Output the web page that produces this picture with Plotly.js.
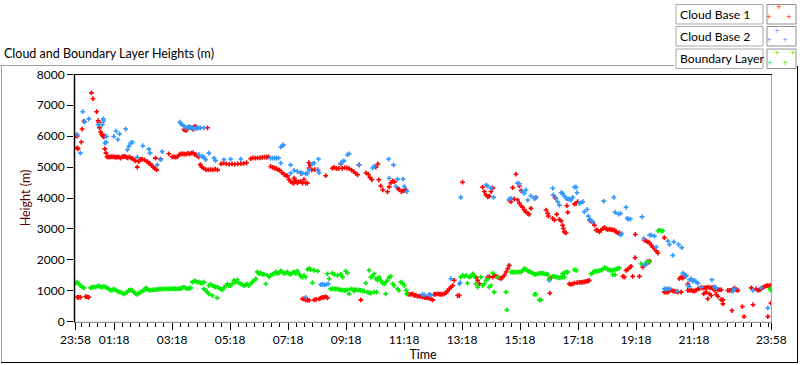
<!DOCTYPE html>
<html><head><meta charset="utf-8">
<script src="https://cdn.plot.ly/plotly-3.0.1.min.js"></script>
<style>html,body{margin:0;padding:0;background:#fff;}#chart{width:800px;height:365px;}</style>
</head><body><div id="chart"></div>
<script>
// hours after 23:58 start, height in metres
const cloudBase1 = [
[0.02,6020],[0.05,6000],[0.06,5620],[0.09,5590],[0.2,5810],[0.23,6230],[0.29,6480],[0.55,7400],[0.6,7210],[0.73,6790],[0.78,6500],[0.8,6440],[0.83,6270],[0.87,6130],[0.9,6060],[0.93,6020],[0.97,5980],[1.0,6000],[1.01,5590],[1.05,5450],
[1.09,5330],[1.14,5330],[1.19,5320],[1.24,5340],[1.29,5330],[1.34,5330],[1.39,5310],[1.44,5330],[1.5,5320],[1.55,5290],[1.6,5330],[1.65,5340],[1.7,5350],[1.75,5320],[1.8,5300],[1.86,5330],[1.92,5290],[1.97,5270],[2.02,5230],[2.07,5200],[2.13,5000],[2.18,5180],[2.24,5250],[2.3,5250],[2.38,5230],[2.47,5180],[2.52,5130],[2.58,5100],[2.63,5050],[2.68,5000],[2.74,4950],[2.8,4910],[2.76,5290],[2.93,5260],[3.22,5430],[3.34,5330],[3.4,5330],[3.46,5320],[3.52,5340],[3.58,5400],[3.64,5430],[3.7,5430],[3.76,5420],[3.82,5420],[3.88,5440],[3.94,5430],[4.0,5450],[4.06,5460],[4.12,5400],[4.18,5390],[4.24,5330],
[3.74,6210],[3.8,6180],[3.86,6230],[3.92,6290],[3.98,6270],[4.04,6230],[4.08,6300],[4.14,6320],[4.2,6260],[4.55,6270],
[4.3,5080],[4.36,5000],[4.42,4960],[4.5,4920],[4.58,4910],[4.66,4920],[4.74,4910],[4.82,4930],[4.9,4910],[5.02,5100],[5.1,5130],[5.2,5100],[5.3,5090],[5.4,5100],[5.5,5090],[5.6,5100],[5.7,5110],[5.8,5120],[5.9,5140],[6.04,5270],[6.12,5300],[6.2,5290],[6.28,5300],[6.36,5300],[6.44,5310],[6.52,5320],[6.6,5320],[6.66,5330],
[6.73,5020],[6.8,4990],[6.86,4970],[6.92,4950],[6.98,4920],[7.04,4900],[7.12,4820],[7.2,4760],[7.27,4720],[7.31,4715],[7.36,4600],[7.42,4530],[7.48,4500],[7.54,4480],[7.54,4640],[7.6,4560],[7.65,4500],[7.7,4520],[7.77,4530],[7.77,4800],[7.83,4480],[7.88,4600],[7.94,4480],[8.0,4480],[8.06,4970],[8.05,5140],[8.1,5070],[8.15,4910],[8.25,4920],[8.36,4910],[8.63,4720],
[8.86,4960],[8.92,4990],[9.0,4950],[9.08,4960],[9.15,5100],[9.2,4960],[9.28,4980],[9.36,4970],[9.44,4950],[9.52,4900],[9.6,4850],[9.66,4800],[9.73,4750],[9.78,5070],[10.02,4810],[10.1,4760],[10.16,4660],[10.22,4590],[10.36,5000],[10.43,5100],[10.46,4590],[10.53,4390],[10.6,4260],[10.76,4200],[10.82,4360],[10.88,4490],[10.94,4550],[11.0,4520],[11.11,4315],[11.16,4280],[11.24,4210],[11.3,4230],[11.36,4250],[11.4,4260],
[13.35,4510],[14.04,4350],[14.1,4210],[14.16,4100],[14.22,4040],[14.27,4060],[14.33,4210],[14.39,4320],
[14.96,3935],[15.02,3880],[15.08,4335],[15.13,3970],[15.19,4770],[15.25,3935],[15.31,4390],[15.31,3830],[15.37,4240],[15.37,3750],[15.42,3700],[15.48,3610],[15.54,3550],[15.6,3500],[15.65,3470],[15.71,3665],[15.83,3990],[15.88,4020],
[16.23,3610],[16.29,3500],[16.31,3415],[16.46,3340],[16.52,3285],[16.54,4010],[16.6,3470],[16.69,3307],[16.75,3260],[16.8,3120],[16.83,3015],[16.86,2905],[16.92,2870],[16.95,3750],[16.98,3535],[17.21,3805],[17.27,3830],[17.32,3880],
[17.73,3285],[17.78,3260],[17.84,3200],[17.9,3120],[17.96,2960],[18.01,2960],[18.07,2905],[18.13,2960],[18.19,3010],[18.24,3045],[18.3,3000],[18.36,2980],[18.42,2990],[18.47,2980],[18.53,2970],[18.59,2960],[18.65,2905],[18.7,2870],[18.76,2870],
[19.31,2820],[19.62,2635],[19.68,2615],[19.74,2580],[19.8,2545],[19.86,2470],[19.91,2415],[19.97,2365],[20.03,2290],[20.09,2220],[20.31,2720],
[0.06,790],[0.11,790],[0.17,790],[0.35,810],[0.4,800],[0.46,790],
[7.83,740],[7.88,740],[7.94,705],[8.0,700],[8.06,690],[8.23,705],[8.3,720],[8.4,740],[8.46,760],[8.52,790],[8.57,790],[8.63,810],[8.69,770],[9.84,705],
[11.45,900],[11.5,880],[11.57,880],[11.63,900],[11.68,845],[11.74,860],[11.8,815],[11.86,830],[11.91,815],[11.97,800],[12.03,790],[12.09,780],[12.14,770],[12.2,760],[12.26,740],[12.32,705],[12.37,880],[12.43,890],[12.49,900],[12.55,890],[12.6,880],[12.66,890],[12.72,900],[12.78,940],[12.83,985],[12.89,1060],[12.95,1115],[13.01,1170],[13.06,1335],[13.18,845],[13.24,845],
[13.81,1440],[13.87,1335],[13.93,1225],[14.22,1440],[14.28,1450],[14.39,1440],[14.44,1495],[14.5,1470],[14.56,1440],[14.62,1420],[14.68,1390],[14.73,1440],[14.79,1495],[14.85,1605],[14.91,1715],[14.96,1820],
[16.34,1390],[16.4,1420],[16.36,920],
[17.03,1225],[17.09,1210],[17.15,1225],[17.21,1245],[17.3,1260],[17.38,1270],[17.44,1275],[17.5,1280],[17.56,1290],[17.61,1300],[17.67,1310],[17.72,1335],
[18.88,1465],[18.93,1440],[18.99,1660],[19.05,1690],[19.11,1745],[19.16,1790],[19.22,1465],[19.3,2070],[19.45,1465],[19.57,1765],[19.62,1820],[19.7,1880],[19.76,1930],[19.8,1960],
[20.31,955],[20.37,955],[20.43,955],[20.49,990],[20.55,1030],[20.6,1000],[20.66,985],[20.72,970],[20.78,955],[20.89,955],[20.83,1390],[20.89,1440],[20.95,1410],[21.0,1465],[21.06,1495],
[21.12,1225],[21.12,1010],[21.18,1010],[21.24,1010],[21.3,1000],[21.35,985],[21.41,1020],[21.47,1060],[21.53,1080],[21.58,1095],[21.64,1095],[21.7,1095],[21.75,1100],[21.81,1115],[21.87,1100],[21.93,1095],[21.98,1100],[22.04,1115],[22.1,1080],[22.16,1030],[22.22,1030],[22.27,1030],
[21.67,900],[21.75,955],[21.81,740],[21.87,900],[21.93,845],[22.04,1010],[22.1,880],[22.16,815],[22.27,715],[22.33,575],[22.33,705],
[22.5,1010],[22.56,1010],[22.62,1010],[22.68,1010],[22.73,1095],[22.79,1030],[22.85,1010],[22.64,360],[23.0,490],[23.06,165],[23.31,1095],[23.37,550],[23.48,1060],[23.54,1010],[23.6,1040],[23.65,1060],[23.71,1100],[23.77,1140],[23.83,1160],[23.88,1170],[23.94,1170],[23.99,1170],[23.88,165],[23.99,600]
];
const cloudBase2 = [
[0.06,6050],[0.17,5450],[0.25,6790],[0.32,6460],[0.46,6560],[0.78,6370],[0.92,6370],[0.96,6560],[0.97,6480],[1.01,5780],[1.06,5800],[1.07,5990],[1.32,5990],[1.4,6160],[1.46,5890],[1.52,6070],[1.73,6230],[1.79,5560],[1.84,5670],[1.9,5780],[1.96,5800],[2.13,5320],[2.32,5690],[2.53,5580],[2.57,5450],[2.82,5070],[2.94,5240],[2.99,5500],
[3.6,6450],[3.64,6400],[3.68,6370],[3.74,6320],[3.8,6270],[3.86,6280],[3.91,6300],[3.97,6280],[4.03,6270],[4.09,6230],[4.14,6260],[4.2,6270],[4.26,6270],[4.32,6270],[4.43,6270],
[4.26,5400],[4.37,5340],[4.43,5320],[4.49,5240],[4.6,5450],[4.78,5290],[4.83,5210],[5.12,5240],[5.35,5260],[5.7,5260],
[6.73,5290],[6.8,5290],[6.87,5290],[6.93,5290],[7.0,5290],[7.08,5650],[7.14,5690],[7.17,5720],[7.08,5130],[7.42,5070],[7.42,4800],[7.54,4890],[7.65,4860],[7.77,4820],[7.83,4800],[7.94,4780],[8.0,4800],[8.06,4910],[8.17,5100],[8.23,5130],[8.35,4910],[8.38,5260],[8.4,4820],
[9.15,5130],[9.21,5180],[9.26,5200],[9.38,5400],[9.44,5430],[9.78,5070],[10.25,4970],[10.3,5020],[10.8,5260],[10.97,5070],[10.82,4640],[11.05,4370],[11.11,4610],[11.3,4610],[11.34,4370],[11.43,4210],
[13.29,4020],[14.16,4420],[14.22,4390],[14.33,4320],[14.42,4020],[14.96,3960],[15.02,3990],[15.25,4480],[15.31,4460],[15.42,4210],[15.48,4150],[15.54,4260],[15.6,3935],[15.71,4065],[15.83,3990],[15.88,4020],
[16.46,4315],[16.48,4100],[16.57,3990],[16.63,3880],[16.69,3770],[16.75,4170],[16.8,4150],[16.86,4065],[16.92,3990],[16.98,3960],[17.03,3960],[17.09,3935],[17.15,4020],[17.21,4350],[17.27,4350],[17.3,4170],[17.38,3830],[17.44,3850],[17.5,3880],[17.55,3555],[17.65,3630],[17.69,3415],[17.76,3285],[17.84,3230],
[18.22,3900],[18.57,4020],[18.61,3535],[18.73,3480],[18.8,3500],[18.99,3700],[19.03,3340],[19.07,3320],[19.14,3320],[18.8,2800],[18.84,2850],[19.54,3390],[19.6,2690],[19.8,2800],[19.86,2800],[19.97,2765],[20.03,2415],[20.43,2610],[20.49,2495],[20.6,2146],[20.64,2580],[20.8,2495],[20.91,2395],
[7.94,790],[8.46,1200],[8.52,1210],[8.58,1190],[8.65,1200],[8.72,1220],[11.97,880],[12.03,870],[12.2,880],[12.26,860],[12.95,1390],[13.24,1225],[13.27,1260],[16.34,1335],
[19.62,1820],[19.68,1895],[20.31,1060],[20.37,1060],[20.43,1060],[20.49,1060],[20.75,985],[20.95,1570],[21.0,1530],[21.06,1465],[21.12,1170],[21.18,1355],[21.18,1140],[21.24,1390],[21.29,1310],[21.35,1335],[21.41,1280],[21.47,1245],[21.58,1115],[21.95,1355],[22.04,1115],[22.1,1095],[22.68,985],[22.73,1060],[23.37,1010],[23.65,1095],[23.88,445]
];
const boundaryLayer = [
[0.0,1245],[0.06,1280],[0.11,1225],[0.17,1170],[0.23,1115],[0.29,1095],
[0.52,1095],[0.58,1115],[0.63,1115],[0.69,1115],[0.75,1140],[0.81,1160],[0.86,1115],[0.92,1115],[0.98,1140],[1.04,1115],[1.09,1095],[1.15,1060],[1.21,1010],[1.27,1030],[1.32,1050],[1.38,1030],[1.44,985],[1.5,965],[1.55,955],[1.61,920],[1.67,900],[1.73,920],[1.78,955],[1.84,1010],[1.9,1030],[1.96,1010],[2.01,955],[2.07,900],[2.13,880],[2.19,920],[2.24,955],[2.3,985],[2.36,1010],[2.42,1095],[2.47,1060],[2.53,1030],[2.59,1010],[2.65,1030],[2.7,1030],[2.76,1040],[2.82,1040],[2.88,1050],[2.93,1050],[2.99,1060],[3.05,1060],[3.11,1060],[3.17,1060],[3.22,1060],[3.28,1060],[3.34,1070],[3.4,1070],[3.45,1060],[3.51,1060],[3.57,1070],[3.63,1070],[3.68,1095],[3.74,1115],[3.8,1085],[3.86,1070],[3.92,1080],[3.97,1095],
[4.03,1280],[4.09,1315],[4.14,1315],[4.2,1280],[4.26,1280],[4.32,1245],[4.37,1245],[4.43,1280],
[4.43,1060],[4.49,1010],[4.55,955],[4.6,900],[4.72,845],[4.89,770],
[4.6,1170],[4.66,1205],[4.72,1170],[4.78,1140],[4.83,1115],[4.89,1115],[4.95,1095],[5.01,1060],[5.06,1030],[5.12,1095],[5.18,1170],[5.24,1225],[5.29,1170],[5.35,1170],[5.41,1225],[5.47,1335],[5.52,1280],[5.58,1355],[5.64,1245],[5.7,1225],[5.75,1205],[5.81,1170],[5.87,1190],[5.93,1225],[5.98,1170],[6.04,1225],[6.1,1280],[6.16,1335],[6.22,1390],[6.27,1610],[6.33,1555],[6.39,1575],[6.45,1530],[6.5,1530],[6.56,1225],[6.62,1500],[6.68,1445],[6.73,1500],[6.79,1530],[6.85,1555],[6.91,1610],[6.96,1555],[7.02,1575],[7.08,1645],[7.14,1610],[7.19,1555],[7.25,1575],[7.31,1610],[7.37,1555],[7.42,1530],[7.48,1575],[7.54,1610],[7.6,1555],[7.65,1645],[7.71,1555],[7.77,1465],[7.83,1445],[7.88,1495],[7.94,1445],[8.0,1690],[8.06,1720],[8.11,1680],[8.17,1260],[8.23,1660],[8.35,1635],
[8.69,1550],[8.75,1390],[8.86,1570],[8.92,1530],[9.04,1495],[9.15,1530],[9.21,1440],[9.32,1635],[9.38,1570],
[8.8,1060],[8.86,1060],[8.92,1060],[8.98,1050],[9.04,1060],[9.1,1040],[9.15,1030],[9.21,1020],[9.27,1010],[9.32,1020],[9.38,1030],[9.44,900],[9.5,1060],[9.56,1040],[9.61,1030],[9.61,985],[9.67,1030],[9.73,1030],[9.79,1020],[9.84,1010],[9.9,1000],[9.96,985],[10.07,955],[10.13,940],[10.19,920],[10.3,955],[10.39,955],[10.7,900],
[10.01,1245],[10.13,1660],[10.19,1440],[10.24,1465],[10.3,1550],[10.36,1390],[10.42,1335],[10.47,1440],[10.53,1335],[10.59,1245],[10.65,1225],[10.7,1280],[10.76,1335],[10.82,1440],[10.88,1465],[10.94,1225],[10.99,1170],[11.11,1060],[11.16,1010],[11.22,1280],[11.28,1245],[11.34,1170],[11.4,1010],[11.43,900],
[13.29,1440],[13.35,1495],[13.41,1465],[13.47,1495],[13.52,1245],[13.58,1440],[13.64,1465],[13.7,1550],[13.75,1465],[13.81,1225],[13.87,1115],[13.98,1440],[14.04,1170],[14.1,1225],[14.16,1335],[14.22,1390],[14.27,1115],[14.33,1170],[14.39,1570],[14.44,955],[14.56,1440],[14.85,955],[14.88,380],
[15.02,1605],[15.08,1600],[15.13,1605],[15.19,1600],[15.25,1605],[15.31,1610],[15.37,1605],[15.42,1650],[15.48,1715],[15.54,1680],[15.6,1635],[15.65,1620],[15.71,1605],[15.77,1570],[15.83,1530],[15.88,1540],[15.94,1550],[16.0,1560],[16.06,1570],[16.12,1560],[16.17,1550],[16.23,1540],[16.29,1530],[15.83,880],[15.88,880],[16.0,705],[16.06,705],[16.34,1390],
[16.46,1465],[16.52,1465],[16.57,1440],[16.63,1430],[16.69,1420],[16.75,1430],[16.8,1440],[16.86,1440],[16.8,1550],[16.86,1580],[16.92,1605],[16.98,1605],[17.21,1680],[17.27,1660],
[17.78,1550],[17.84,1570],[17.9,1635],[17.96,1635],[18.01,1635],[18.07,1650],[18.13,1660],[18.19,1700],[18.24,1745],[18.3,1735],[18.36,1680],[18.42,1670],[18.47,1660],[18.53,1670],[18.59,1680],[18.65,1700],[18.7,1715],[18.76,1735],[18.53,1520],[18.61,1520],
[19.51,1875],[19.72,1950],[19.8,1930],[20.09,2940],[20.14,2960],[20.2,2940],[20.26,2940],
[23.99,1010],[23.97,1060]
];
const seriesNames = ['Cloud Base 1', 'Cloud Base 2', 'Boundary Layer'];
const seriesColors = ['#ff0000', '#3399ff', '#00ee00'];
const tickHours = [0, 4/3, 10/3, 16/3, 22/3, 28/3, 34/3, 40/3, 46/3, 52/3, 58/3, 64/3, 24];
const tickLabels = ['23:58','01:18','03:18','05:18','07:18','09:18','11:18','13:18','15:18','17:18','19:18','21:18','23:58'];
const heightTicks = [0,1000,2000,3000,4000,5000,6000,7000,8000];

// layout geometry (pixels)
const L = 74, R = 772, T = 74, B = 322;
const X = px => (px - L) / (R - L);
const Y = py => (B - py) / (B - T);
const FONT = 'Lato, "Noto Sans", sans-serif';

const series = [cloudBase1, cloudBase2, boundaryLayer];
const traces = series.map((pts, i) => ({
  type: 'scatter', mode: 'markers', name: seriesNames[i],
  x: pts.map(p => p[0]), y: pts.map(p => p[1]),
  marker: {symbol: 'cross-thin', size: 3.4, color: seriesColors[i], line: {color: seriesColors[i], width: 1.6}},
  hovertemplate: '%{y} m<extra>' + seriesNames[i] + '</extra>'
}));

const minorTicks = [];
for (let v = 4/3; v > 0; v -= 2/7) minorTicks.push(v);
for (let v = 4/3 + 2/7; v < 24; v += 2/7) minorTicks.push(v);

function hline(x0, x1, y, color, w) { return {type:'line', xref:'paper', yref:'paper', x0:X(x0), x1:X(x1), y0:Y(y), y1:Y(y), line:{color:color, width:w||1}}; }
function vline(x, y0, y1, color, w) { return {type:'line', xref:'paper', yref:'paper', x0:X(x), x1:X(x), y0:Y(y0), y1:Y(y1), line:{color:color, width:w||1}}; }
function box(x0, y0, x1, y1, color) { return {type:'rect', xref:'paper', yref:'paper', x0:X(x0), x1:X(x1), y0:Y(y0), y1:Y(y1), line:{color:color, width:1}, fillcolor:'#ffffff'}; }

const shapes = [
  hline(0, 674, 65.5, '#a0a0a0'),
  vline(1.5, 65.5, 362.5, '#a0a0a0'),
  hline(1, 798, 362.5, '#000000'),
  vline(797.5, 66, 362.5, '#000000'),
  vline(771.5, 74, 322.5, '#a0a0a0'),
  hline(74, 772, 322.3, '#808080'),
  hline(74, 772, 74.5, '#000000', 1.2),
  vline(74.5, 74, 322.5, '#000000', 1.5)
];
const annotations = [];
const rowsTop = [4.5, 26.5, 49];
rowsTop.forEach((top, i) => {
  shapes.push(box(676, top, 763, top + 19.5, '#a8a8a8'));
  shapes.push(box(767, top, 796, top + 19.5, '#909090'));
  annotations.push({xref:'paper', yref:'paper', x:X(678.5), y:Y(top + 10), xanchor:'left', yanchor:'middle', text:seriesNames[i], showarrow:false, borderpad:0, font:{size:12.2, color:'#000', family:FONT}});
});
const legendCross = [
  [[779,7],[769,17.3],[789,17.3]],
  [[777,30.7],[769,40],[785,40]],
  [[777,53.3],[793,53.3],[770,62.7],[785,62.7]]
];
legendCross.forEach((list, i) => list.forEach(p => annotations.push({xref:'paper', yref:'paper', x:X(p[0]), y:Y(p[1]), xanchor:'center', yanchor:'middle', text:'+', showarrow:false, borderpad:0, font:{size:7, color:seriesColors[i], family:'DejaVu Sans'}})));

const layout = {
  width: 800, height: 365,
  margin: {l: L, r: 800 - R, t: T, b: 365 - B},
  paper_bgcolor: '#ffffff', plot_bgcolor: '#ffffff', showlegend: false,
  font: {family: FONT, size: 12, color: '#000'},
  title: {text: 'Cloud and Boundary Layer Heights (m)', xref: 'container', yref: 'container', x: 4/800, xanchor: 'left', y: 1 - 54/365, yanchor: 'middle', font: {size: 12.5, color: '#000', family: FONT}},
  xaxis: {range: [-0.052, 24.024], tickmode: 'array', tickvals: tickHours, ticktext: tickLabels,
    ticks: 'outside', ticklen: 7, tickwidth: 1, tickcolor: '#000', showgrid: false, zeroline: false, showline: false,
    tickfont: {size: 12, color: '#000', family: FONT},
    minor: {tickvals: minorTicks, ticks: 'outside', ticklen: 4, tickwidth: 1, tickcolor: '#000', showgrid: false},
    title: {text: 'Time', standoff: 2, font: {size: 12.5, color: '#000', family: FONT}}},
  yaxis: {range: [-10, 8010], tickmode: 'array', tickvals: heightTicks, ticks: 'outside', ticklen: 6, tickwidth: 1, tickcolor: '#000',
    showgrid: false, zeroline: false, showline: false, tickfont: {size: 12, color: '#000', family: FONT},
    title: {text: 'Height (m)', standoff: 3, font: {size: 12.5, color: '#5a0505', family: FONT}}},
  shapes: shapes, annotations: annotations
};
Plotly.newPlot('chart', traces, layout, {displayModeBar: false, staticPlot: true});
</script></body></html>
